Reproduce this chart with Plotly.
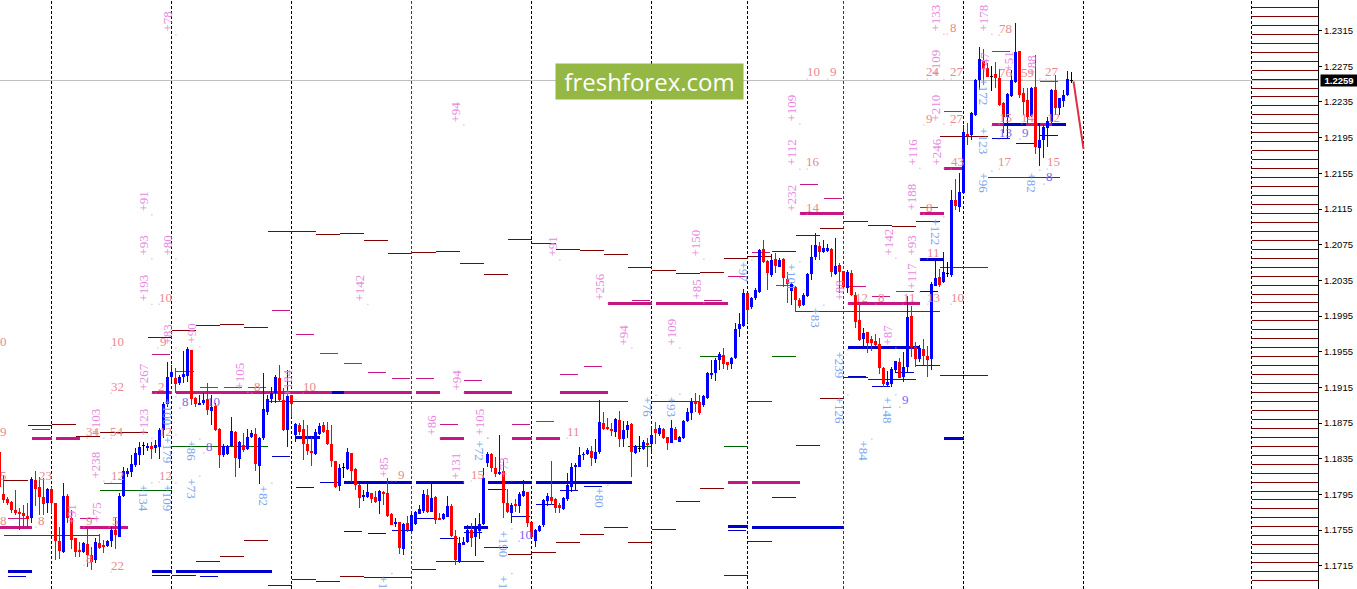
import plotly.graph_objects as go

# hourly candles, first bar sits just off the left edge
bar_index = list(range(-1, 268))

opens = [1.18431,
    1.17956,1.17897,1.17863,1.17777,1.17758,1.17740,1.17710,1.17691,1.18113,1.18039,
    1.17927,1.17852,1.18009,1.17852,1.17430,1.17307,1.17934,1.17684,1.17460,1.17329,
    1.17310,1.17396,1.17273,1.17210,1.17404,1.17385,1.17374,1.17430,1.17553,1.17478,
    1.17934,1.18180,1.18207,1.18281,1.18393,1.18494,1.18476,1.18494,1.18476,1.18487,
    1.18674,1.18965,1.19271,1.19256,1.19196,1.19271,1.19279,1.19570,1.19028,1.18957,
    1.18972,1.19017,1.18886,1.18942,1.18681,1.18393,1.18401,1.18494,1.18655,1.18345,
    1.18506,1.18457,1.18591,1.18629,1.18270,1.18580,1.18879,1.19017,1.19084,1.19260,
    1.19010,1.18674,1.19066,1.18618,1.18730,1.18681,1.18517,1.18438,1.18405,1.18629,
    1.18730,1.18674,1.18517,1.18326,1.18050,1.18255,1.18237,1.18412,1.18233,1.18057,
    1.17919,1.17919,1.17964,1.17919,1.17878,1.17983,1.17971,1.17732,1.17617,1.17643,
    1.17340,1.17628,1.17542,1.17620,1.17732,1.17766,1.17945,1.17758,1.17927,1.17684,
    1.17680,1.17702,1.17822,1.17486,1.17198,1.17385,1.17419,1.17553,1.17471,1.17542,
    1.17620,1.18300,1.18405,1.18244,1.18177,1.18214,1.17852,1.17747,1.17844,1.17822,
    1.17938,1.17979,1.17646,1.17430,1.17542,1.17602,1.17871,1.17919,1.17897,1.17833,
    1.17788,1.17897,1.18039,1.18263,1.18263,1.18395,1.18405,1.18439,1.18349,1.18424,
    1.18749,1.18711,1.18685,1.18655,1.18786,1.18569,1.18674,1.18741,1.18413,1.18469,
    1.18461,1.18525,1.18517,1.18681,1.18629,1.18681,1.18592,1.18532,1.18681,1.18543,
    1.18581,1.18775,1.18861,1.18991,1.18991,1.18950,1.19029,1.19294,1.19309,1.19458,
    1.19511,1.19432,1.19414,1.19477,1.19806,1.19839,1.20205,1.20048,1.20153,1.20217,
    1.20698,1.20568,1.20411,1.20586,1.20504,1.20590,1.20362,1.20235,1.20280,1.20131,
    1.20071,1.20175,1.20422,1.20609,1.20736,1.20668,1.20683,1.20702,1.20422,1.20523,
    1.20459,1.20261,1.20437,1.20187,1.19907,1.19690,1.19768,1.19694,1.19671,1.19634,
    1.19369,1.19174,1.19189,1.19346,1.19436,1.19272,1.19384,1.19951,1.19600,1.19466,
    1.19582,1.19503,1.19470,1.20291,1.20385,1.20332,1.20429,1.20411,1.21251,1.21173,
    1.21330,1.21991,1.21979,1.22204,1.22596,1.22820,1.22730,1.22640,1.22663,1.22618,
    1.22338,1.22181,1.22416,1.22573,1.22920,1.22450,1.22372,1.22192,1.22517,1.21834,
    1.21923,1.22058,1.22125,1.22484,1.22282,1.22360,1.22428,1.22596]

highs = [1.18431,
    1.18169,1.17927,1.17871,1.18001,1.17796,1.17833,1.17852,1.18151,1.18214,1.18151,
    1.18132,1.18020,1.18039,1.17852,1.17590,1.18076,1.17956,1.17777,1.17460,1.17422,
    1.17422,1.17564,1.17366,1.17460,1.17504,1.17441,1.17441,1.17583,1.17702,1.17964,
    1.18255,1.18244,1.18393,1.18468,1.18543,1.18543,1.18524,1.18543,1.18562,1.18692,
    1.18991,1.19439,1.19402,1.19365,1.19290,1.19562,1.19607,1.19570,1.19040,1.19066,
    1.19084,1.19196,1.19066,1.18972,1.18692,1.18517,1.18506,1.18823,1.18666,1.18550,
    1.18636,1.18681,1.18674,1.18692,1.18599,1.19316,1.19066,1.19159,1.19290,1.19402,
    1.19140,1.19346,1.19066,1.18748,1.18748,1.18786,1.18730,1.18599,1.18681,1.18748,
    1.18767,1.18767,1.18730,1.18326,1.18293,1.18308,1.18476,1.18420,1.18244,1.18068,
    1.18001,1.18083,1.17971,1.17994,1.18001,1.17994,1.18132,1.17740,1.17684,1.17646,
    1.17628,1.17710,1.17740,1.17770,1.17833,1.18001,1.18009,1.18106,1.17934,1.17740,
    1.17747,1.17934,1.17844,1.17553,1.17471,1.17478,1.17609,1.17628,1.17684,1.17740,
    1.18244,1.18431,1.18412,1.18367,1.18618,1.18345,1.18012,1.17852,1.17897,1.17983,
    1.18113,1.17983,1.17646,1.17560,1.17609,1.17897,1.17971,1.18330,1.17908,1.17852,
    1.17927,1.18188,1.18300,1.18300,1.18479,1.18431,1.18468,1.18495,1.18569,1.19010,
    1.18879,1.18805,1.18749,1.18805,1.18887,1.18779,1.18775,1.18749,1.18506,1.18607,
    1.18555,1.18581,1.18704,1.18767,1.18730,1.18693,1.18599,1.18786,1.18704,1.18607,
    1.18786,1.18917,1.19029,1.19085,1.19066,1.19066,1.19328,1.19458,1.19477,1.19552,
    1.19589,1.19440,1.19496,1.19869,1.19981,1.20250,1.20205,1.20168,1.20261,1.20698,
    1.20803,1.20579,1.20646,1.20661,1.20598,1.20598,1.20448,1.20336,1.20288,1.20149,
    1.20205,1.20429,1.20747,1.20878,1.20784,1.20803,1.20758,1.20710,1.20822,1.20541,
    1.20459,1.20467,1.20467,1.20224,1.20075,1.19813,1.19776,1.19727,1.19750,1.19709,
    1.19376,1.19339,1.19384,1.19451,1.19477,1.19552,1.20175,1.20063,1.19664,1.19626,
    1.19690,1.19615,1.20336,1.20586,1.20474,1.20668,1.20560,1.21363,1.21486,1.21554,
    1.22091,1.22114,1.22237,1.22607,1.22965,1.22943,1.22786,1.22753,1.22797,1.22719,
    1.22349,1.22450,1.22708,1.23234,1.22920,1.22506,1.22506,1.22517,1.22876,1.22091,
    1.22091,1.22181,1.22495,1.22652,1.22394,1.22484,1.22697,1.22685]

lows = [1.17964,
    1.17852,1.17833,1.17740,1.17721,1.17546,1.17572,1.17572,1.17635,1.17815,1.17721,
    1.17721,1.17747,1.17740,1.17210,1.17224,1.17292,1.17628,1.17336,1.17254,1.17254,
    1.17292,1.17142,1.17105,1.17180,1.17336,1.17292,1.17359,1.17366,1.17336,1.17471,
    1.17919,1.18151,1.18151,1.18263,1.18281,1.18393,1.18442,1.18345,1.18420,1.18345,
    1.18580,1.18935,1.19215,1.19084,1.19178,1.19196,1.19215,1.18954,1.18935,1.18954,
    1.18954,1.18842,1.18730,1.18666,1.18244,1.18375,1.18393,1.18487,1.18143,1.18244,
    1.18431,1.18450,1.18580,1.18218,1.18068,1.18562,1.18842,1.18972,1.18972,1.18991,
    1.18666,1.18487,1.18823,1.18543,1.18618,1.18337,1.18393,1.18270,1.18393,1.18618,
    1.18644,1.18506,1.18263,1.18020,1.17994,1.18132,1.18225,1.18095,1.18001,1.17796,
    1.17871,1.17908,1.17852,1.17852,1.17732,1.17833,1.17702,1.17602,1.17590,1.17284,
    1.17273,1.17534,1.17534,1.17609,1.17728,1.17740,1.17740,1.17751,1.17620,1.17658,
    1.17665,1.17695,1.17478,1.17161,1.17187,1.17378,1.17404,1.17359,1.17262,1.17452,
    1.17609,1.18255,1.18207,1.18151,1.18169,1.17684,1.17747,1.17628,1.17758,1.17740,
    1.17927,1.17583,1.17460,1.17366,1.17534,1.17590,1.17822,1.17833,1.17740,1.17740,
    1.17777,1.17882,1.17983,1.17994,1.18255,1.18337,1.18393,1.18271,1.18300,1.18405,
    1.18674,1.18674,1.18607,1.18599,1.18480,1.18487,1.18581,1.18151,1.18405,1.18431,
    1.18450,1.18263,1.18413,1.18517,1.18607,1.18569,1.18450,1.18525,1.18555,1.18540,
    1.18569,1.18767,1.18786,1.18879,1.18842,1.18935,1.19018,1.19242,1.19227,1.19346,
    1.19354,1.19346,1.19354,1.19470,1.19720,1.19832,1.19869,1.20026,1.20131,1.20205,
    1.20541,1.20243,1.20392,1.20429,1.20497,1.20280,1.20093,1.20075,1.20000,1.20037,
    1.20063,1.20168,1.20355,1.20579,1.20579,1.20661,1.20672,1.20392,1.20411,1.20205,
    1.20261,1.20205,1.20175,1.19813,1.19675,1.19578,1.19541,1.19563,1.19615,1.19301,
    1.19152,1.19160,1.19160,1.19309,1.19253,1.19216,1.19309,1.19496,1.19384,1.19440,
    1.19402,1.19272,1.19346,1.20288,1.20273,1.20325,1.20392,1.20388,1.21139,1.21117,
    1.21330,1.21867,1.21923,1.22192,1.22484,1.22540,1.22629,1.22472,1.22506,1.22304,
    1.22002,1.21946,1.22405,1.22562,1.22394,1.22204,1.22091,1.22181,1.21767,1.21632,
    1.21722,1.21845,1.22114,1.22204,1.22204,1.22293,1.22416,1.22562]

closes = [1.18039,
    1.17889,1.17852,1.17777,1.17740,1.17732,1.17710,1.17673,1.18124,1.18012,1.17927,
    1.17844,1.18012,1.17852,1.17430,1.17318,1.17934,1.17684,1.17441,1.17310,1.17303,
    1.17411,1.17273,1.17198,1.17419,1.17348,1.17359,1.17430,1.17553,1.17490,1.17934,
    1.18214,1.18214,1.18293,1.18412,1.18487,1.18494,1.18498,1.18461,1.18506,1.18674,
    1.18965,1.19271,1.19320,1.19189,1.19271,1.19301,1.19581,1.19017,1.18965,1.18980,
    1.19010,1.18898,1.18935,1.18674,1.18393,1.18494,1.18494,1.18662,1.18356,1.18543,
    1.18450,1.18591,1.18644,1.18293,1.18588,1.18909,1.19021,1.19084,1.19271,1.19010,
    1.18674,1.19055,1.18965,1.18741,1.18655,1.18517,1.18438,1.18412,1.18651,1.18718,
    1.18655,1.18517,1.18330,1.18039,1.18244,1.18255,1.18427,1.18218,1.18057,1.17915,
    1.17945,1.17975,1.17900,1.17867,1.17994,1.17956,1.17710,1.17609,1.17646,1.17351,
    1.17620,1.17546,1.17721,1.17755,1.17788,1.17956,1.17758,1.17915,1.17665,1.17665,
    1.17728,1.17826,1.17486,1.17217,1.17404,1.17419,1.17546,1.17463,1.17560,1.17620,
    1.18139,1.18405,1.18244,1.18180,1.18199,1.17852,1.17755,1.17833,1.17822,1.17956,
    1.17994,1.17635,1.17471,1.17553,1.17598,1.17889,1.17934,1.17882,1.17803,1.17796,
    1.17908,1.18057,1.18263,1.18281,1.18393,1.18408,1.18450,1.18360,1.18427,1.18764,
    1.18685,1.18681,1.18663,1.18797,1.18573,1.18674,1.18730,1.18427,1.18498,1.18469,
    1.18540,1.18506,1.18618,1.18637,1.18693,1.18585,1.18532,1.18693,1.18562,1.18599,
    1.18775,1.18879,1.18991,1.18965,1.18861,1.19055,1.19316,1.19316,1.19458,1.19526,
    1.19414,1.19402,1.19477,1.19806,1.19862,1.20205,1.20019,1.20149,1.20243,1.20691,
    1.20560,1.20429,1.20579,1.20512,1.20579,1.20373,1.20310,1.20310,1.20131,1.20063,
    1.20187,1.20422,1.20609,1.20747,1.20672,1.20710,1.20710,1.20448,1.20512,1.20448,
    1.20273,1.20448,1.20187,1.19888,1.19682,1.19757,1.19645,1.19645,1.19626,1.19372,
    1.19189,1.19212,1.19358,1.19447,1.19260,1.19376,1.19944,1.19600,1.19466,1.19593,
    1.19503,1.19458,1.20310,1.20377,1.20299,1.20441,1.20429,1.21251,1.21184,1.21341,
    1.22013,1.21968,1.22226,1.22596,1.22831,1.22719,1.22629,1.22640,1.22618,1.22316,
    1.22181,1.22439,1.22596,1.22909,1.22428,1.22349,1.22181,1.22506,1.21845,1.21923,
    1.22069,1.22136,1.22484,1.22282,1.22394,1.22428,1.22607,1.22596]

# daily separators (bar numbers), the colour follows the source chart
sep_black = [12, 42, 72, 132, 162, 186, 240, 270, 312]
sep_red = [102]
sep_green = [210]

last_price = 1.2259
forecast_x = [267.5, 270]
forecast_y = [1.2258, 1.21823]

price_ticks = [1.2315, 1.2275, 1.2235, 1.2195, 1.2155, 1.2115, 1.2075, 1.2035,
               1.1995, 1.1955, 1.1915, 1.1875, 1.1835, 1.1795, 1.1755, 1.1715]

# ladder of round levels on the right
ladder_levels = [1.23410,1.23310,1.23209,1.23109,1.23008,1.22908,1.22808,1.22707,1.22607,1.22506,
    1.22406,1.22306,1.22205,1.22105,1.22004,1.21904,1.21804,1.21703,1.21603,1.21502,
    1.21402,1.21302,1.21201,1.21101,1.21000,1.20900,1.20800,1.20699,1.20599,1.20498,
    1.20398,1.20298,1.20197,1.20097,1.19996,1.19896,1.19796,1.19695,1.19595,1.19494,
    1.19394,1.19294,1.19193,1.19093,1.18992,1.18892,1.18792,1.18691,1.18591,1.18490,
    1.18390,1.18290,1.18189,1.18089,1.17988,1.17888,1.17788,1.17687,1.17587,1.17486,
    1.17386,1.17286,1.17185,1.17085,1.16984]
ladder_start = 312
ladder_end = 328.625

# level lines: price, first bar, last bar
darkred_levels = [1.18108,1.18725,1.18736,1.18602,1.18646,1.19712,1.19790,1.19846,1.19857,1.19824,
    1.20900,1.20866,1.20877,1.20799,1.20653,1.20664,1.20676,1.20541,1.20418,1.20810,
    1.20765,1.20698,1.20687,1.20642,1.20496,1.20463,1.20429,1.20440,1.20597,1.20623,
    1.20676,1.20855,1.20933,1.21012,1.20967,1.20956,1.21012,1.21965,
    1.17043,1.17200,1.17256,1.17436,1.16931,1.16991,1.16976,1.17032,1.17021,1.17110,
    1.17200,1.17357,1.17279,1.17301,1.17413,1.17503,1.17574,1.17413,1.17559,1.17873,
    1.18019,1.17043,1.17424,1.17918,1.18501,1.19028,1.19263,1.19241,1.19398,1.19286]
darkred_start = [0,6,12,18,24,36,42,48,54,60,
    66,78,84,90,96,102,108,114,120,126,
    132,138,144,150,156,162,168,174,180,186,
    192,198,204,210,216,222,228,234,
    42,48,54,60,66,72,78,84,90,102,
    108,120,126,132,138,144,150,156,162,168,
    174,180,186,192,198,204,210,216,228,234]
darkred_end = [6,12,18,24,36,42,48,54,60,66,
    78,84,90,96,102,108,114,120,126,132,
    138,144,150,156,162,168,174,180,186,192,
    198,204,210,216,222,228,234,246,
    48,54,60,66,72,78,84,90,102,108,
    120,126,132,138,144,150,156,162,168,174,
    180,186,192,198,204,210,216,228,234,246]

green_levels = [1.17492,1.17996,1.18490,1.18994,1.18490,1.18994,1.19498,1.18490,1.18994,1.19498,1.20003,1.20496,1.21505]
green_start = [0,24,42,66,156,162,174,180,186,192,198,234,246]
green_end = [24,42,66,156,162,174,180,186,192,198,234,246,264]

magenta_thin_levels = [1.18680,1.17682,1.17682,1.18075,1.19521,1.19330,1.19151,1.19151,1.19151,1.20014,
    1.19745,1.19532,1.19420,1.19319,1.19252,1.19252,1.19229,1.18736,1.18736,1.18770,
    1.19297,1.19386,1.20126,1.20126,1.20395,1.20664,1.20294,1.20283,1.20171,1.20227,
    1.21427,1.21270,1.21169,1.22245,1.22918,1.22574]
magenta_thin_start = [7,1,19,25,37,43,49,55,61,67,
    73,79,85,91,97,103,115,127,109,133,
    139,145,157,175,181,187,193,211,217,223,
    199,205,229,235,247,259]

magenta_thick_levels = [1.18582,1.18582,1.17585,1.17585,1.19090,1.19090,1.19090,1.19090,1.19090,1.19090,1.19090,
    1.18582,1.18582,1.18582,1.20088,1.20088,1.20088,1.21097,1.21097,1.21602,
    1.22092,1.22092,1.22092,1.18089,1.18089]
magenta_thick_start = [7,13,-1,19,37,43,72,85,103,115,139,
    109,127,133,151,163,211,199,229,235,
    247,255.5,259,181,187]
magenta_thick_end = [12,19,7,31,42,72,82,102,109,127,151,
    115,132,139,162,181,229,210,235,240,
    250,258.5,262,186,199]

blue_thin_levels = [1.17032,1.17043,1.17043,1.17032,1.18377,1.18030,1.18086,1.17536,1.17514,1.17548,
    1.17682,1.17458,1.17525,1.18008,1.17705,1.17839,1.17996,1.18041,1.17548,1.19274,
    1.19162,1.19319,1.20220,1.21943,1.21886,1.21976]
blue_thin_start = [1,37,43,49,67,73,79,85,91,97,
    103,109,115,121,127,133,139,145,181,211,
    217,223,229,247,253,259]

blue_thick_levels = [1.17084,1.17084,1.17084,1.18586,1.18086,1.18086,1.17585,1.18086,1.18086,1.17588,
    1.17585,1.18582,1.19595,1.20589,1.22092,1.19090]
blue_thick_start = [1,37,43,73,85,103,115,121,133,181,187,235,211,229,247,82]
blue_thick_end = [7,42,67,79,102,115,121,132,157,186,210,240,229,235,265.5,85]

# short levels all span the same four and a half bars
SHORT_SPAN = 4.5

# rotated pip labels
pink_text = ["+78","+91","+93","+80","+193","+83","+90","+267","+123","+103","+238","+75","+91","+105","+184",
    "+142","+94","+91","+85","+94","+86","+131","+105","+73","+256","+94","+109","+85","+150","+88",
    "+109","+112","+232","+116","+188","+246","+210","+109","+133","+178","+142","+93","+117","+87",
    "+47","+51","+88"]
pink_x = [41,35,35,41,35,41,47,35,35,23,23,23,17,59,71,
    89,113,137,95,113,107,113,119,125,149,155,167,173,173,209,
    197,197,197,227,227,233,233,233,233,245,221,227,227,221,
    245,251,257]
pink_y = [1.23246,1.21228,1.20735,1.20735,1.20264,1.19737,1.19749,1.19266,1.18762,1.18762,1.18280,1.17742,1.17719,1.19278,1.19199,
    1.20264,1.22237,1.20724,1.18246,1.19233,1.18728,1.18269,1.18762,1.18246,1.20275,1.19737,1.19771,1.20242,1.20769,1.20230,
    1.22282,1.21778,1.21273,1.21789,1.21284,1.21789,1.22282,1.22787,1.23291,1.23291,1.20780,1.20735,1.20399,1.19737,
    1.22798,1.22798,1.22753]

blue_text = ["+134","+109","+73","+86","+82","+179","+100","+72","+190","+80","+1","+1","+97","+76","+93",
    "+83","+101","+239","+126","+84","+148","+122","+172","+123","+96","+82"]
blue_x = [35,41,47,47,65,41,41,119,125,149,95,125,185,161,167,
    203,197,209,209,215,221,233,245,245,245,257]
blue_y = [1.17910,1.17910,1.18022,1.18437,1.17943,1.18448,1.18874,1.18448,1.17394,1.17921,1.16968,1.16968,1.20444,1.18930,1.18941,
    1.19939,1.20387,1.19401,1.18896,1.18437,1.18896,1.20892,1.22462,1.21912,1.21441,1.21453]

# flat counters
count_text = ["0","10","9","10","32","54","34","12","23","5","9","8","8","9","5","22","8","2","12","12",
    "8","10","9","15","11","12","8","11","13","10","11","10","9","16","14","24","27","9","27","43",
    "8","8","78","76","59","27","15","14","12","17","15"]
count_x = [0,28.4,40.1,40.4,28.4,28.4,22.4,28.4,10.4,0,0,9.6,0,21.6,27.9,28.4,21.6,39.6,40.4,40.4,
    63.6,76.4,99.6,118.4,142.4,214.4,219.6,226.4,232.6,238.4,232.4,202.4,207.6,202.4,202.4,232.4,238.4,231.6,238.4,238.4,
    231.6,237.4,250.4,250.6,256.1,262.1,250.4,256.1,262.4,250.4,262.4]
count_y = [1.19670,1.19670,1.19670,1.20163,1.19165,1.18660,1.18660,1.18168,1.18168,1.18168,1.18660,1.17663,1.17663,1.17663,1.17663,1.17159,1.17237,1.19165,1.18660,1.18168,
    1.19165,1.19165,1.18179,1.18179,1.18660,1.20163,1.20163,1.20163,1.20163,1.20163,1.20668,1.22686,1.22686,1.21677,1.21172,1.22686,1.22686,1.22170,1.22170,1.21677,
    1.21172,1.23190,1.23179,1.22675,1.22675,1.22686,1.22181,1.22181,1.22181,1.21677,1.21677]

violet_text = ["8","10","8","10","9","13","9","8"]
violet_x = [45.6,52.4,51.6,130.4,225.6,250.4,255.6,261.6]
violet_y = [1.18997,1.18997,1.18493,1.17506,1.19009,1.22013,1.22013,1.21509]

SERIF = "Liberation Serif"
PINK = "#e888df"
SKY = "#7aa5f0"
SALMON = "#ea8a90"
VIOLET = "#7b68ee"
# one screen pixel in price units
PIXEL = 1 / 8920


def segment_path(levels, starts, ends):
    xs, ys = [], []
    for level, start, end in zip(levels, starts, ends):
        xs += [start, end, None]
        ys += [level, level, None]
    return xs, ys


def add_lines(fig, xs, ys, color, width, dash=None):
    fig.add_trace(go.Scatter(x=xs, y=ys, mode="lines", hoverinfo="skip", showlegend=False,
                             line=dict(color=color, width=width, dash=dash, simplify=False)))


def add_dots(fig, xs, ys, color):
    # every label has a faint anchor dot next to it
    fig.add_trace(go.Scatter(x=xs, y=ys, mode="markers", hoverinfo="skip", showlegend=False,
                             cliponaxis=True, marker=dict(color=color, size=1.2, line=dict(width=0))))


def add_separators(fig, bars, color):
    xs, ys = [], []
    for bar in bars:
        xs += [bar, bar, None]
        ys += [1.1689, 1.23493, None]
    add_lines(fig, xs, ys, color, 1, "3px,2px")


def add_candles(fig, color, keep):
    wick_x, wick_y, body_x, body_y = [], [], [], []
    for i, o, h, l, c in zip(bar_index, opens, highs, lows, closes):
        if keep(o, c):
            wick_x += [i, i, None]
            wick_y += [l, h, None]
            body_x += [i, i, None]
            body_y += [o, c, None]
    add_lines(fig, wick_x, wick_y, color, 1)
    add_lines(fig, body_x, body_y, color, 3)


fig = go.Figure()

add_lines(fig, [-0.875, 328.625], [last_price, last_price], "#c0c0c0", 1)
add_separators(fig, sep_black, "#000000")
add_separators(fig, sep_red, "#cc0000")
add_separators(fig, sep_green, "#006400")

# ladder
ladder_x, ladder_y = segment_path(ladder_levels, [ladder_start] * len(ladder_levels), [ladder_end] * len(ladder_levels))
add_lines(fig, ladder_x, ladder_y, "#7f0000", 1)

# levels
add_lines(fig, *segment_path(green_levels, green_start, green_end), "#006400", 1)
add_lines(fig, *segment_path(darkred_levels, darkred_start, darkred_end), "#7f0000", 1)
add_lines(fig, *segment_path(blue_thin_levels, blue_thin_start, [s + SHORT_SPAN for s in blue_thin_start]), "#0000cd", 1)
add_lines(fig, *segment_path(magenta_thin_levels, magenta_thin_start, [s + SHORT_SPAN for s in magenta_thin_start]), "#c71585", 1)
add_lines(fig, *segment_path(blue_thick_levels, blue_thick_start, blue_thick_end), "#0000cd", 3)
add_lines(fig, *segment_path(magenta_thick_levels, magenta_thick_start, magenta_thick_end), "#c71585", 3)

# anchor dots: below the rotated pink text, above the blue, under the counters
add_dots(fig, [x + 2.1 for x in pink_x],
         [y - (len(t) * 6.6 / 2 + 3) * PIXEL for t, y in zip(pink_text, pink_y)], PINK)
add_dots(fig, [x + 2.1 for x in blue_x],
         [y + (len(t) * 6.6 / 2 + 2) * PIXEL for t, y in zip(blue_text, blue_y)], SKY)
add_dots(fig, [x - 1.5 for x in count_x], [y - 7 * PIXEL for y in count_y], SALMON)
add_dots(fig, [x - 1.5 for x in violet_x], [y - 7 * PIXEL for y in violet_y], VIOLET)

# candles on top of the levels
add_candles(fig, "#0000ff", lambda o, c: c > o)
add_candles(fig, "#ff0000", lambda o, c: c < o)

# doji bars are black crosses
doji_wick_x, doji_wick_y, doji_tick_x, doji_tick_y = [], [], [], []
for i, o, h, l, c in zip(bar_index, opens, highs, lows, closes):
    if o == c:
        doji_wick_x += [i, i, None]
        doji_wick_y += [l, h, None]
        doji_tick_x += [i - 0.375, i + 0.375, None]
        doji_tick_y += [o, o, None]
add_lines(fig, doji_wick_x, doji_wick_y, "#000000", 1)
add_lines(fig, doji_tick_x, doji_tick_y, "#000000", 1)

annotations = []
for t, x, y in zip(pink_text, pink_x, pink_y):
    annotations.append(dict(text=t, x=x, y=y, textangle=-90, showarrow=False,
                            font=dict(family=SERIF, size=13, color=PINK)))
for t, x, y in zip(blue_text, blue_x, blue_y):
    annotations.append(dict(text=t, x=x, y=y, textangle=90, showarrow=False,
                            font=dict(family=SERIF, size=13, color=SKY)))
for t, x, y in zip(count_text, count_x, count_y):
    annotations.append(dict(text=t, x=x, y=y, showarrow=False,
                            font=dict(family=SERIF, size=13, color=SALMON)))
for t, x, y in zip(violet_text, violet_x, violet_y):
    annotations.append(dict(text=t, x=x, y=y, showarrow=False,
                            font=dict(family=SERIF, size=13, color=VIOLET)))

# current price flag
annotations.append(dict(text="<b>1.2259</b>", xref="paper", x=1.0015, xanchor="left", yref="y", y=last_price,
                        showarrow=False, bgcolor="#000000", width=36, height=11, borderpad=0,
                        font=dict(family="Liberation Sans", size=9.5, color="#ffffff")))
# logo, last so it sits over the labels
annotations.append(dict(text="freshforex.com", xref="paper", yref="paper", x=0.4928, y=0.8608,
                        xanchor="center", yanchor="middle", showarrow=False, bgcolor="#94b843",
                        width=187, height=35, borderpad=0,
                        font=dict(family="Open Sans", size=24, color="#ffffff")))

fig.update_layout(
    width=1357,
    height=589,
    margin=dict(l=0, r=39, t=0, b=0, pad=0),
    paper_bgcolor="#ffffff",
    plot_bgcolor="#ffffff",
    showlegend=False,
    annotations=annotations,
    shapes=[
        dict(type="line", xref="x", yref="y", x0=forecast_x[0], x1=forecast_x[1], y0=forecast_y[0], y1=forecast_y[1],
             line=dict(color="#e03040", width=2), layer="above"),
    ],
    xaxis=dict(visible=False, range=[-0.875, 328.625], fixedrange=True),
    yaxis=dict(side="right", range=[1.1689, 1.23493], tickvals=price_ticks,
               ticktext=["%.4f" % p for p in price_ticks], ticks="outside", ticklen=3,
               tickcolor="#000000", showline=True, linecolor="#000000", linewidth=1,
               showgrid=False, zeroline=False, fixedrange=True,
               tickfont=dict(family="Liberation Sans", size=9.5, color="#000000")),
)

crisp = ("document.body.style.margin='0';document.body.style.overflow='hidden';"
         "var s=document.createElement('style');"
         "s.textContent='.scatterlayer .js-line{shape-rendering:crispEdges}';"
         "document.head.appendChild(s);")
fig.write_html("out.html", config=dict(displayModeBar=False), post_script=crisp)
